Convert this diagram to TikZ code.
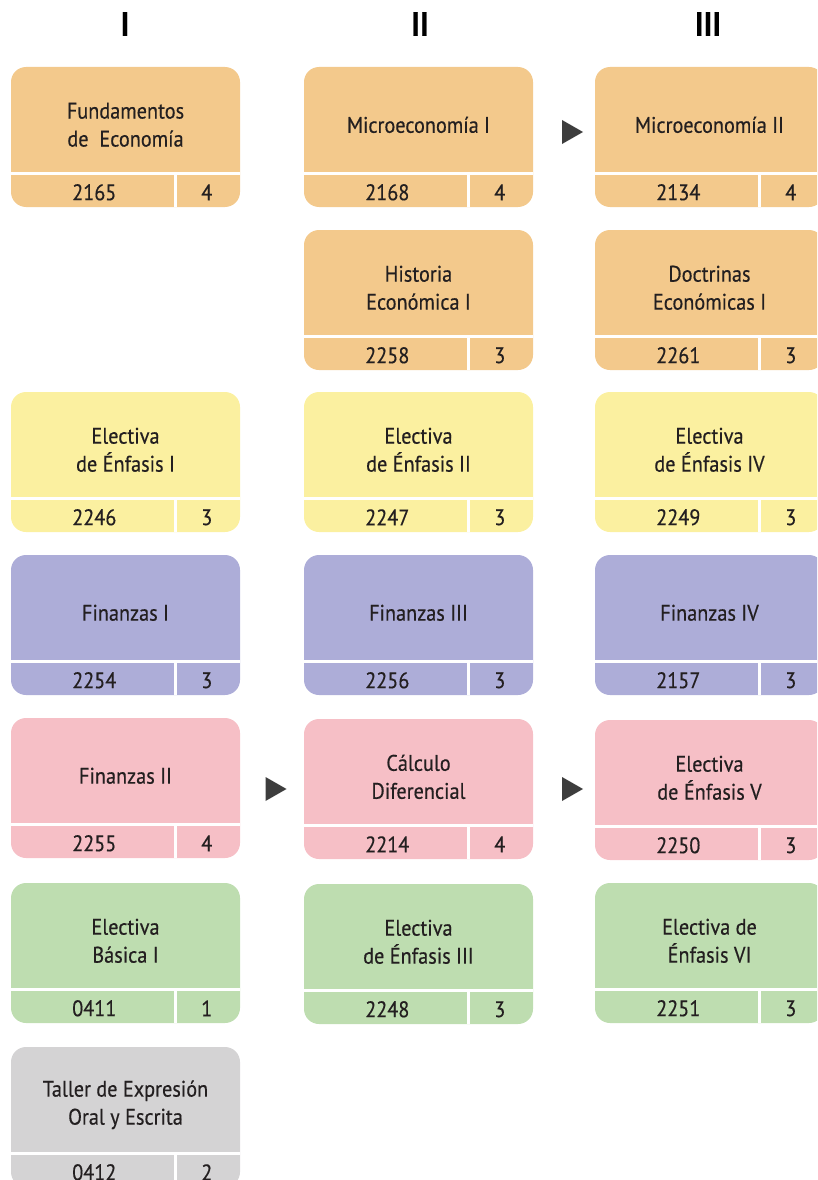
\documentclass[tikz,border=0pt]{standalone}
\usepackage{fontspec}
\setmainfont{PT Sans}[FakeStretch=0.9,FakeBold=0.4]
\usetikzlibrary{shapes.geometric}
\definecolor{corange}{HTML}{F3C98C}
\definecolor{cyellow}{HTML}{FBF0A0}
\definecolor{cpurple}{HTML}{ADADD8}
\definecolor{cpink}{HTML}{F6BFC6}
\definecolor{cgreen}{HTML}{BEDDB0}
\definecolor{cgray}{HTML}{D4D3D4}
\definecolor{ctext}{HTML}{231F20}
\definecolor{carrow}{HTML}{3D3D3D}
\tikzset{
  coursebox/.style={rectangle, rounded corners=15pt, minimum width=229pt, minimum height=140pt, inner sep=0pt, draw=none},
  divider/.style={white, line width=3pt},
  titletext/.style={align=center, text=ctext, font=\fontsize{22.5}{28}\selectfont},
  numtext/.style={text=ctext, font=\fontsize{22.5}{26}\selectfont},
  header/.style={text=black, font=\fontsize{34}{38}\selectfont\bfseries},
  marker/.style={isosceles triangle, isosceles triangle stretches, minimum height=21pt, minimum width=24pt, inner sep=0pt, fill=carrow, draw=none}
}
\newcommand\course[7]{%
  \node[coursebox, fill=#4] (#1) at (#2+114.5,#3+70) {};
  \draw[divider] ([yshift=-107pt]#1.north west) -- ([yshift=-107pt]#1.north east);
  \draw[divider] ([xshift=165pt,yshift=-107pt]#1.north west) -- ([xshift=165pt]#1.south west);
  \node[titletext] (#1-t) at ([yshift=-58pt]#1.north) {#5};
  \node[numtext] (#1-c) at ([xshift=83.5pt,yshift=-125.5pt]#1.north west) {#6};
  \node[numtext] (#1-k) at ([xshift=196pt,yshift=-125.5pt]#1.north west) {#7};
}
\begin{document}
\begin{tikzpicture}[x=1pt,y=-1pt]
\useasboundingbox (0,0) rectangle (817,1180);
\clip (0,0) rectangle (817,1180);
\node[header] (h1) at (125,24) {I};
\node[header] (h2) at (420,24) {II};
\node[header] (h3) at (708,24) {III};
% column I
\course{a1}{11}{67}{corange}{Fundamentos\\de\ \ Economía}{2165}{4}
\course{a3}{11}{392}{cyellow}{Electiva\\de Énfasis I}{2246}{3}
\course{a4}{11}{555}{cpurple}{Finanzas I}{2254}{3}
\course{a5}{11}{718}{cpink}{Finanzas II}{2255}{4}
\course{a6}{11}{883}{cgreen}{Electiva\\Básica I}{0411}{1}
\course{a7}{11}{1047}{cgray}{Taller de Expresión\\Oral y Escrita}{0412}{2}
% column II
\course{b1}{304}{67}{corange}{Microeconomía I}{2168}{4}
\course{b2}{304}{230}{corange}{Historia\\Económica I}{2258}{3}
\course{b3}{304}{392}{cyellow}{Electiva\\de Énfasis II}{2247}{3}
\course{b4}{304}{555}{cpurple}{Finanzas III}{2256}{3}
\course{b5}{304}{719}{cpink}{Cálculo\\Diferencial}{2214}{4}
\course{b6}{304}{884}{cgreen}{Electiva\\de Énfasis III}{2248}{3}
% column III
\course{c1}{595}{67}{corange}{Microeconomía II}{2134}{4}
\course{c2}{595}{230}{corange}{Doctrinas\\Económicas I}{2261}{3}
\course{c3}{595}{392}{cyellow}{Electiva\\de Énfasis IV}{2249}{3}
\course{c4}{595}{555}{cpurple}{Finanzas IV}{2157}{3}
\course{c5}{595}{720}{cpink}{Electiva\\de Énfasis V}{2250}{3}
\course{c6}{595}{883}{cgreen}{Electiva de\\Énfasis VI}{2251}{3}
% markers
\node[marker] (m1) at (569,132) {};
\node[marker] (m2) at (272.5,789) {};
\node[marker] (m3) at (569,789) {};
\end{tikzpicture}
\end{document}
